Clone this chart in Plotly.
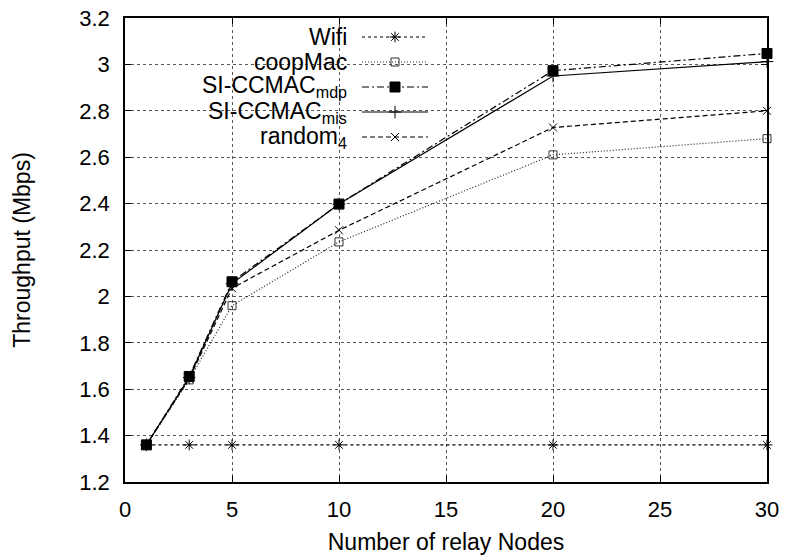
import plotly.graph_objects as go

# ---- data ----
relay_nodes = [1, 3, 5, 10, 20, 30]
wifi = [1.36, 1.36, 1.36, 1.36, 1.36, 1.36]
coopmac = [1.36, 1.64, 1.96, 2.235, 2.61, 2.68]
si_ccmac_mdp = [1.36, 1.655, 2.063, 2.398, 2.973, 3.047]
si_ccmac_mis = [1.36, 1.65, 2.055, 2.398, 2.95, 3.012]
random_4 = [1.36, 1.645, 2.035, 2.285, 2.728, 2.80]

series_names = ["Wifi", "coopMac", "SI-CCMAC<sub>mdp</sub>", "SI-CCMAC<sub>mis</sub>", "random<sub>4</sub>"]
series_values = [wifi, coopmac, si_ccmac_mdp, si_ccmac_mis, random_4]

x_ticks = [0, 5, 10, 15, 20, 25, 30]
y_ticks = [1.2, 1.4, 1.6, 1.8, 2.0, 2.2, 2.4, 2.6, 2.8, 3.0, 3.2]

# ---- styles ----
styles = [
    dict(dash="3px,3px", symbol="asterisk-open", size=9, color="#000", lcolor="#000"),
    dict(dash="1px,2px", symbol="square-open", size=8, color="#333", lcolor="#222"),
    dict(dash="7px,3px,2px,3px", symbol="square", size=10, color="#000", lcolor="#000"),
    dict(dash="solid", symbol="cross-thin-open", size=9, color="#000", lcolor="#000"),
    dict(dash="5px,3px", symbol="x-thin-open", size=8, color="#000", lcolor="#000"),
]

W, H = 787, 558
ML, MR, MT, MB = 125, 20, 18, 76
PW, PH = W - ML - MR, H - MT - MB

FAMILY = "Liberation Sans, Arial, Helvetica, sans-serif"


def px_to_paper_x(px):
    return (px - ML) / PW


def px_to_paper_y(py):
    return (H - MB - py) / PH


fig = go.Figure()

for name, vals, st in zip(series_names, series_values, styles):
    fig.add_trace(go.Scatter(
        x=relay_nodes, y=vals, mode="lines+markers", name=name,
        line=dict(color=st["lcolor"], width=1.2, dash=st["dash"]),
        marker=dict(symbol=st["symbol"], size=st["size"], color=st["color"],
                    line=dict(color=st["color"], width=1)),
        showlegend=False, cliponaxis=False,
    ))

# ---- custom legend (text on left, sample on right) ----
legend_rows_px = [37, 62, 87, 112, 137]
sample_x0, sample_xm, sample_x1 = px_to_paper_x(362), px_to_paper_x(395), px_to_paper_x(428)
text_right = px_to_paper_x(349)

annotations = []
for name, st, ry in zip(series_names, styles, legend_rows_px):
    yp = px_to_paper_y(ry)
    fig.add_trace(go.Scatter(
        x=[sample_x0, sample_x1], y=[yp, yp], mode="lines", xaxis="x2", yaxis="y2",
        line=dict(color=st["lcolor"], width=1.2, dash=st["dash"]),
        showlegend=False, hoverinfo="skip", cliponaxis=False,
    ))
    fig.add_trace(go.Scatter(
        x=[sample_xm], y=[yp], mode="markers", xaxis="x2", yaxis="y2",
        marker=dict(symbol=st["symbol"], size=st["size"], color=st["color"],
                    line=dict(color=st["color"], width=1)),
        showlegend=False, hoverinfo="skip", cliponaxis=False,
    ))
    annotations.append(dict(
        x=text_right, y=yp, xref="paper", yref="paper", text=name, showarrow=False,
        xanchor="right", yanchor="middle",
        font=dict(family=FAMILY, size=23, color="#000"),
    ))

tick_font = dict(family=FAMILY, size=22, color="#000")
title_font = dict(family=FAMILY, size=23, color="#000")

fig.update_layout(
    width=W, height=H,
    margin=dict(l=ML, r=MR, t=MT, b=MB),
    paper_bgcolor="white", plot_bgcolor="white",
    font=tick_font,
    annotations=annotations,
    shapes=[dict(
        type="rect", xref="paper", yref="paper", layer="between",
        x0=px_to_paper_x(138), x1=px_to_paper_x(440),
        y0=px_to_paper_y(143), y1=1.0,
        fillcolor="white", line=dict(width=0),
    )],
    xaxis=dict(
        range=[0, 30], tickvals=x_ticks, ticktext=[str(v) for v in x_ticks],
        showgrid=True, gridcolor="#555", griddash="dot", gridwidth=1,
        showline=True, linecolor="#000", linewidth=1.5, mirror="ticks",
        ticks="inside", ticklen=6, tickwidth=1, tickcolor="#000",
        zeroline=False, tickfont=tick_font, automargin=False, ticklabelstandoff=7,
        title=dict(text="Number of relay Nodes", font=title_font, standoff=13),
    ),
    yaxis=dict(
        range=[1.2, 3.2], tickvals=y_ticks, ticktext=[f"{v:g}" for v in y_ticks],
        showgrid=True, gridcolor="#555", griddash="dot", gridwidth=1,
        showline=True, linecolor="#000", linewidth=1.5, mirror="ticks",
        ticks="inside", ticklen=6, tickwidth=1, tickcolor="#000",
        zeroline=False, tickfont=tick_font, automargin=False, ticklabelstandoff=9,
        title=dict(text="Throughput (Mbps)", font=title_font, standoff=42),
    ),
    xaxis2=dict(overlaying="x", range=[0, 1], visible=False, fixedrange=True),
    yaxis2=dict(overlaying="y", range=[0, 1], visible=False, fixedrange=True),
)

fig.write_html(
    "out.html",
    config={"displayModeBar": False},
    post_script="document.body.style.margin='0';document.body.style.padding='0';",
)
